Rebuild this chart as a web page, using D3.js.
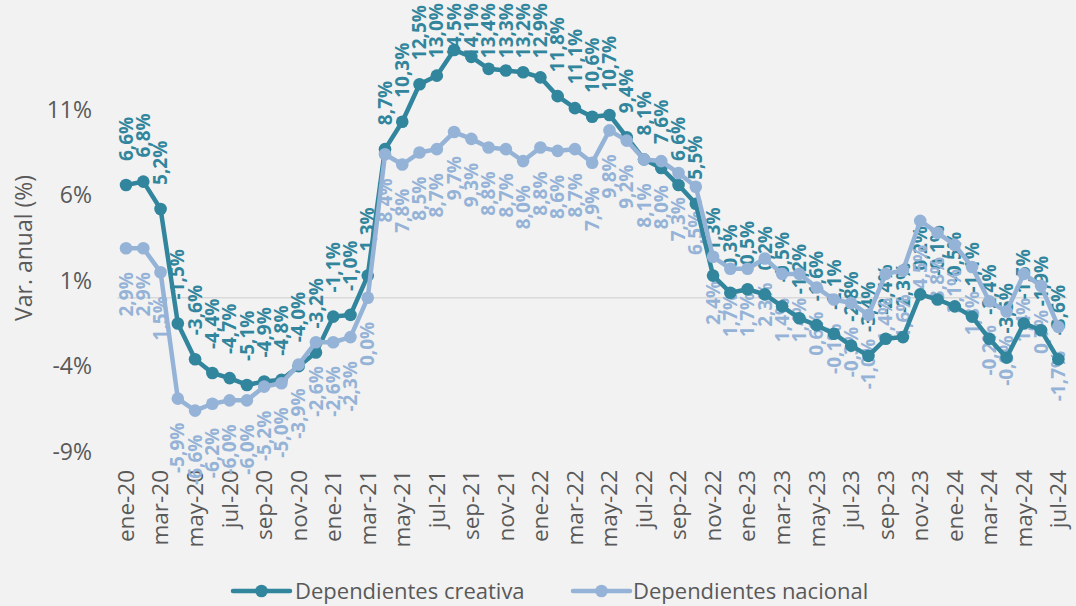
<!DOCTYPE html>
<html>
<head>
<meta charset="utf-8">
<script src="https://cdn.jsdelivr.net/npm/d3@7"></script>
<style>
  html, body { margin: 0; padding: 0; background: #F2F2F2; }
  svg { display: block; }
  text { font-family: "Open Sans", "Noto Sans", sans-serif; }
</style>
</head>
<body>
<svg id="chart" width="1076" height="606"></svg>
<script>
const months = ["ene","feb","mar","abr","may","jun","jul","ago","sep","oct","nov","dic"];
const categories = [];
for (let yr = 20; yr <= 24; yr++) {
  for (let m = 0; m < 12; m++) {
    if (yr === 24 && m > 6) break;
    categories.push(months[m] + "-" + yr);
  }
}
const creativa = [6.6,6.8,5.2,-1.5,-3.6,-4.4,-4.7,-5.1,-4.9,-4.8,-4.0,-3.2,
  -1.1,-1.0,1.3,8.7,10.3,12.5,13.0,14.5,14.1,13.4,13.3,13.2,
  12.9,11.8,11.1,10.6,10.7,9.4,8.1,7.6,6.6,5.5,1.3,0.3,
  0.5,0.2,-0.5,-1.2,-1.6,-2.1,-2.8,-3.4,-2.4,-2.3,0.2,-0.1,
  -0.5,-1.1,-2.4,-3.5,-1.5,-1.9,-3.6];
const nacional = [2.9,2.9,1.5,-5.9,-6.6,-6.2,-6.0,-6.0,-5.2,-5.0,-3.9,-2.6,
  -2.6,-2.3,0.0,8.4,7.8,8.5,8.7,9.7,9.3,8.8,8.7,8.0,
  8.8,8.6,8.7,7.9,9.8,9.2,8.1,8.0,7.3,6.5,2.4,1.7,
  1.7,2.3,1.4,1.4,0.6,-0.1,-0.3,-1.0,1.4,1.6,4.5,3.8,
  3.1,1.8,-0.2,-0.8,1.4,0.7,-1.7];
const yTicks = [-9, -4, 1, 6, 11];
const seriesNames = ["Dependientes creativa", "Dependientes nacional"];
const colors = ["#31859C", "#95B3D7"];

const svg = d3.select("#chart");
const textGray = "#595959";

const x = d3.scalePoint().domain(categories).range([117.4, 1067]).padding(0.5);
const y = d3.scaleLinear().domain([-9, 16]).range([451.6, 24.4]);

// zero line
svg.append("line")
  .attr("x1", 117.4).attr("x2", 1067)
  .attr("y1", y(0)).attr("y2", y(0))
  .attr("stroke", "#D9D9D9").attr("stroke-width", 1.5);

// y axis labels
svg.append("g").selectAll("text").data(yTicks).join("text")
  .attr("x", 92).attr("y", d => y(d)).attr("dy", "0.35em")
  .attr("text-anchor", "end")
  .attr("fill", textGray).attr("font-size", 23)
  .text(d => d + "%");

// y axis title
svg.append("text")
  .attr("transform", "translate(32,248) rotate(-90)")
  .attr("text-anchor", "middle")
  .attr("fill", textGray).attr("font-size", 23)
  .text("Var. anual (%)");

// x axis labels (every other month)
svg.append("g").selectAll("text")
  .data(categories.filter((c, i) => i % 2 === 0)).join("text")
  .attr("transform", d => `translate(${x(d)},470) rotate(-90)`)
  .attr("dy", "0.35em")
  .attr("text-anchor", "end")
  .attr("fill", textGray).attr("font-size", 22.5)
  .text(d => d);

const fmt = v => v.toFixed(1).replace(".", ",") + "%";
const allSeries = [creativa, nacional];

// data labels (under the lines)
allSeries.forEach((vals, si) => {
  const g = svg.append("g");
  vals.forEach((v, i) => {
    const px = x(categories[i]), py = y(v);
    const t = g.append("text")
      .attr("fill", colors[si]).attr("font-size", 19).attr("font-weight", "bold")
      .attr("dy", "0.35em")
      .text(fmt(v));
    const len = t.node().getComputedTextLength();
    if (si === 0) {
      let start = py - 24;
      if (start - len < 3) start = 3 + len;
      t.attr("text-anchor", "start").attr("transform", `translate(${px},${start}) rotate(-90)`);
    } else {
      let end = py + 24;
      t.attr("text-anchor", "end").attr("transform", `translate(${px},${end}) rotate(-90)`);
    }
  });
});

// lines and markers
const line = d3.line().x((d, i) => x(categories[i])).y(d => y(d));
allSeries.forEach((vals, si) => {
  svg.append("path").datum(vals)
    .attr("d", line).attr("fill", "none")
    .attr("stroke", colors[si]).attr("stroke-width", 4.5)
    .attr("stroke-linejoin", "round").attr("stroke-linecap", "round");
  svg.append("g").selectAll("circle").data(vals).join("circle")
    .attr("cx", (d, i) => x(categories[i])).attr("cy", d => y(d))
    .attr("r", 6.3).attr("fill", colors[si]);
});

// legend
const legend = [{x0: 233, tx: 295}, {x0: 573, tx: 633}];
legend.forEach((l, si) => {
  svg.append("line").attr("x1", l.x0).attr("x2", l.x0 + 57)
    .attr("y1", 591).attr("y2", 591)
    .attr("stroke", colors[si]).attr("stroke-width", 4.5).attr("stroke-linecap", "round");
  svg.append("circle").attr("cx", l.x0 + 28.5).attr("cy", 591).attr("r", 6.3).attr("fill", colors[si]);
  svg.append("text").attr("x", l.tx).attr("y", 591).attr("dy", "0.35em")
    .attr("fill", textGray).attr("font-size", 22)
    .text(seriesNames[si]);
});
</script>
</body>
</html>
